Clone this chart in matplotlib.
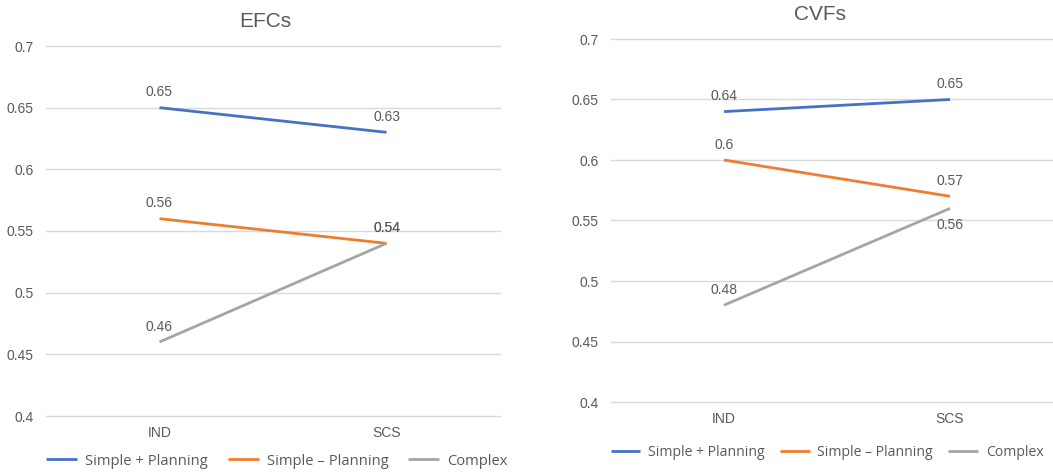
import matplotlib.pyplot as plt

categories = ["IND", "SCS"]
series_names = ["Simple + Planning", "Simple \u2013 Planning", "Complex"]
efcs_values = [[0.65, 0.63], [0.56, 0.54], [0.46, 0.54]]
cvfs_values = [[0.64, 0.65], [0.60, 0.57], [0.48, 0.56]]
efcs_labels = [["0.65", "0.63"], ["0.56", "0.54"], ["0.46", "0.54"]]
cvfs_labels = [["0.64", "0.65"], ["0.6", "0.57"], ["0.48", "0.56"]]
yticks = [0.4, 0.45, 0.5, 0.55, 0.6, 0.65, 0.7]

colors = ["#4472C4", "#ED7D31", "#A5A5A5"]
txt = "#595959"
W, H = 1053, 473

fig = plt.figure(figsize=(W / 100, H / 100), dpi=100)
plt.rcParams['font.family'] = ['Liberation Sans', 'DejaVu Sans']


def px_axes(x0, x1, ytop, ybot):
    return fig.add_axes([x0 / W, 1 - ybot / H, (x1 - x0) / W, (ybot - ytop) / H])


def draw(ax, values, labels, below):
    for i, vals in enumerate(values):
        ax.plot([0, 1], vals, color=colors[i], lw=2, label=series_names[i],
                solid_capstyle='butt')
        for j, v in enumerate(vals):
            dy = -12 if (i, j) in below else 11
            ax.annotate(labels[i][j], (j, v), xytext=(0, dy), textcoords='offset points',
                        ha='center', va='center', fontsize=10, color=txt)
    ax.set_xlim(-0.5, 1.5)
    ax.set_ylim(0.4, 0.7)
    ax.set_yticks(yticks)
    ax.set_yticklabels([f"{t:g}" for t in yticks])
    ax.set_xticks([0, 1])
    ax.set_xticklabels(categories)
    ax.grid(axis='y', color='#D9D9D9', lw=1)
    for gl in ax.get_ygridlines():
        gl.set_clip_on(False)
    ax.set_axisbelow(True)
    for s in ax.spines.values():
        s.set_visible(False)
    ax.tick_params(length=0, colors=txt, labelsize=10)
    ax.tick_params(axis='y', pad=9)
    ax.tick_params(axis='x', pad=7)


def legend(ax, yoff, size, spacing):
    ax.legend(loc='center left', bbox_to_anchor=(0, yoff), ncol=3, frameon=False,
              labelcolor=txt, handlelength=2.1, columnspacing=spacing,
              handletextpad=0.55, borderaxespad=0, borderpad=0,
              prop={'family': 'Open Sans', 'size': size})


ax1 = px_axes(46, 500, 46, 416)
draw(ax1, efcs_values, efcs_labels, set())
fig.text(265 / W, 1 - 21 / H, "EFCs", ha='center', va='center', fontsize=15, color=txt)
legend(ax1, -0.122, 10.6, 1.35)

ax2 = px_axes(611, 1063, 39, 402)
draw(ax2, cvfs_values, cvfs_labels, {(2, 1)})
fig.text(820 / W, 1 - 15 / H, "CVFs", ha='center', va='center', fontsize=15, color=txt)
legend(ax2, -0.138, 10.1, 1.1)

fig.savefig("out.png", dpi=100)
